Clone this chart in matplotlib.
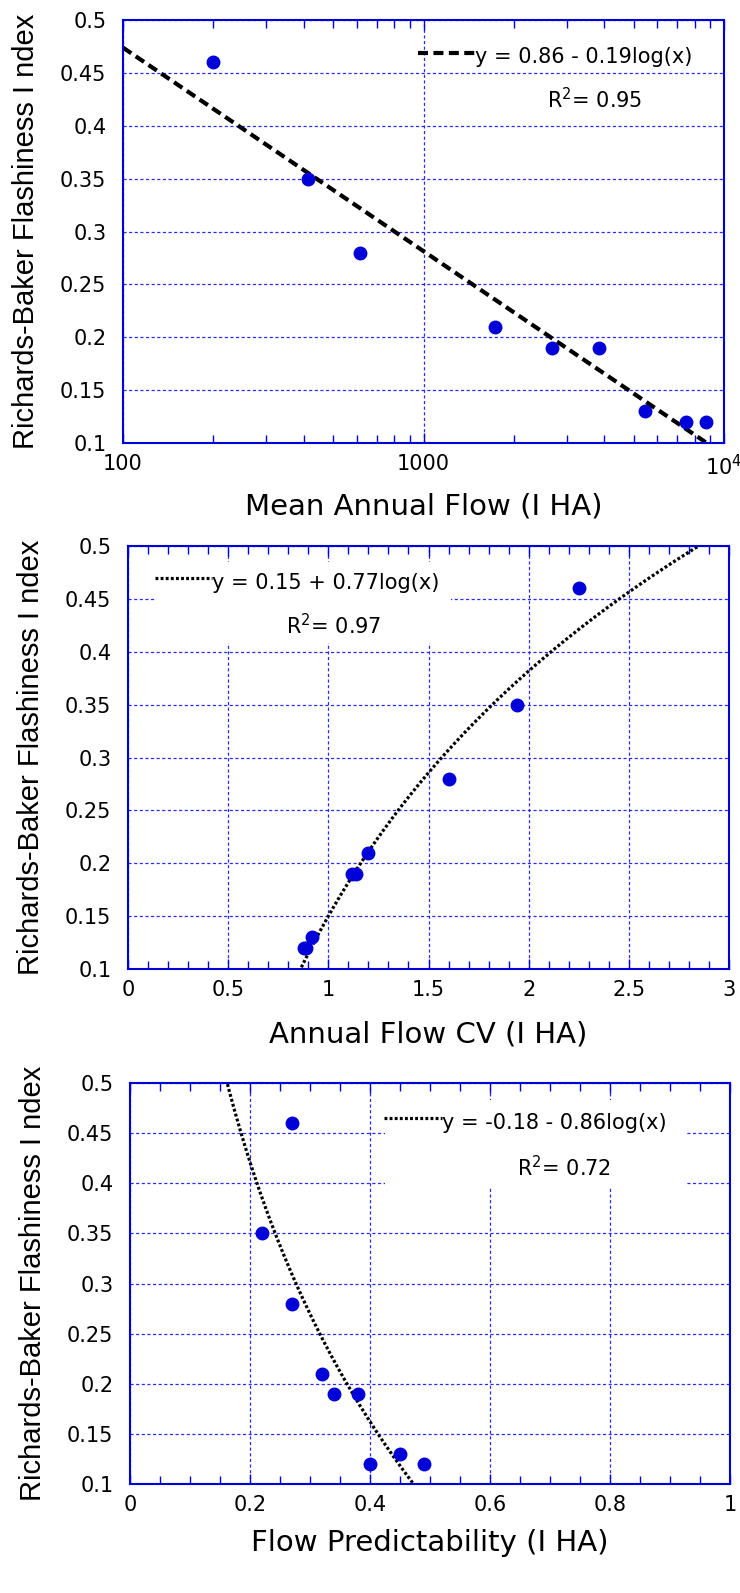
import matplotlib
matplotlib.use('Agg')
import matplotlib.pyplot as plt
import matplotlib.ticker as mticker
from matplotlib.patches import Rectangle
import numpy as np

# flashiness index (same for all three panels)
rb_index = [0.46, 0.35, 0.28, 0.21, 0.19, 0.19, 0.13, 0.12, 0.12]

# panel x values
mean_flow = [200, 412, 615, 1730, 2680, 3840, 5470, 7480, 8720]
flow_cv = [2.25, 1.94, 1.60, 1.20, 1.12, 1.14, 0.92, 0.88, 0.89]
flow_pred = [0.27, 0.22, 0.27, 0.32, 0.34, 0.38, 0.45, 0.40, 0.49]
rb_pred = [0.46, 0.35, 0.28, 0.21, 0.19, 0.19, 0.13, 0.12, 0.12]

# fitted log trend lines (from the equations on the chart)
fit2 = (0.15, 0.77)
fit3 = (-0.18, -0.86)

eq_labels = ['y = 0.86 - 0.19log(x)', 'y = 0.15 + 0.77log(x)', 'y = -0.18 - 0.86log(x)']
r2_labels = ['R$^2$= 0.95', 'R$^2$= 0.97', 'R$^2$= 0.72']
xlabels = ['Mean Annual Flow (I HA)', 'Annual Flow CV (I HA)', 'Flow Predictability (I HA)']
ylabel = 'Richards-Baker Flashiness I ndex'

BLUE = '#0000d8'
GRID = '#2a2aff'
DASH = (0, (2.4, 1.3))
DOT = (0, (0.9, 0.7))

plt.rcParams['font.family'] = ['DejaVu Sans']

fig = plt.figure(figsize=(7.4, 15.93), dpi=100)
W, H = 740, 1593


def axes_px(l, t, r, b):
    return fig.add_axes([l / W, 1 - b / H, (r - l) / W, (b - t) / H])


ax1 = axes_px(123, 20, 724, 443)
ax2 = axes_px(128, 546, 729, 969)
ax3 = axes_px(130, 1083, 730, 1484)


def style(ax):
    ax.set_ylim(0.1, 0.5)
    ax.set_yticks(np.arange(0.1, 0.51, 0.05))
    ax.yaxis.set_major_formatter(mticker.FuncFormatter(lambda v, p: ('%.2f' % v).rstrip('0').rstrip('.')))
    ax.set_axisbelow(True)
    ax.grid(True, which='major', color=GRID, linestyle=(0, (2.5, 2)), linewidth=0.9)
    for s in ax.spines.values():
        s.set_color(BLUE)
        s.set_linewidth(1.5)
    ax.tick_params(axis='y', length=0, pad=12, labelsize=15)
    ax.tick_params(axis='x', which='both', direction='in', top=True, color=BLUE, labelsize=15, pad=8)
    ax.tick_params(axis='x', which='major', length=7, width=1)
    ax.tick_params(axis='x', which='minor', length=6, width=1)
    ax.set_ylabel(ylabel, fontsize=21, family=['Liberation Sans', 'DejaVu Sans'])
    ax.yaxis.label.set_va('center')
    ax.yaxis.set_label_coords(-0.162, 0.5)


def annotate(ax, lx0, lx1, ly, tx, ty, rx, ry, eq, r2, ls, lw):
    ax.plot([lx0, lx1], [ly, ly], transform=ax.transAxes, color='black', linestyle=ls, linewidth=lw, zorder=4)
    ax.text(tx, ty, eq, transform=ax.transAxes, fontsize=15, va='center', ha='left', zorder=4)
    ax.text(rx, ry, r2, transform=ax.transAxes, fontsize=15, va='center', ha='left', zorder=4)


# panel 1: log axis, trend fitted to the points
style(ax1)
ax1.set_xscale('log')
ax1.set_xlim(100, 1e4)
ax1.xaxis.set_major_locator(mticker.FixedLocator([100, 1000, 1e4]))
ax1.xaxis.set_major_formatter(mticker.FixedFormatter(['100', '1000', '$10^4$']))
ax1.xaxis.set_minor_locator(mticker.LogLocator(base=10, subs=np.arange(2, 10)))
ax1.xaxis.set_minor_formatter(mticker.NullFormatter())
b1, a1 = np.polyfit(np.log10(mean_flow), rb_index, 1)
xf = np.logspace(2, 4, 200)
ax1.plot(xf, a1 + b1 * np.log10(xf), color='black', linestyle=DASH, linewidth=3.0, zorder=2)
ax1.plot(mean_flow, rb_index, 'o', color=BLUE, markersize=9, zorder=3)
annotate(ax1, 0.491, 0.586, 0.922, 0.586, 0.912, 0.705, 0.811, eq_labels[0], r2_labels[0], DASH, 3.0)

# panel 2
style(ax2)
ax2.set_xlim(0, 3)
ax2.xaxis.set_major_locator(mticker.MultipleLocator(0.5))
ax2.xaxis.set_minor_locator(mticker.MultipleLocator(0.1))
ax2.xaxis.set_major_formatter(mticker.FuncFormatter(lambda v, p: ('%.1f' % v).rstrip('0').rstrip('.')))
ax2.add_patch(Rectangle((0.045, 0.771), 0.492, 0.191, transform=ax2.transAxes, facecolor='white', edgecolor='none', zorder=1))
xf = np.linspace(0.8, 3, 200)
ax2.plot(xf, fit2[0] + fit2[1] * np.log10(xf), color='black', linestyle=DOT, linewidth=2.3, zorder=2)
ax2.plot(flow_cv, rb_index, 'o', color=BLUE, markersize=9, zorder=3)
annotate(ax2, 0.045, 0.140, 0.924, 0.140, 0.912, 0.263, 0.813, eq_labels[1], r2_labels[1], DOT, 2.3)

# panel 3
style(ax3)
ax3.set_xlim(0, 1)
ax3.xaxis.set_major_locator(mticker.MultipleLocator(0.2))
ax3.xaxis.set_minor_locator(mticker.MultipleLocator(0.05))
ax3.xaxis.set_major_formatter(mticker.FuncFormatter(lambda v, p: ('%.1f' % v).rstrip('0').rstrip('.')))
ax3.add_patch(Rectangle((0.425, 0.741), 0.5, 0.217, transform=ax3.transAxes, facecolor='white', edgecolor='none', zorder=1))
xf = np.linspace(0.15, 0.5, 200)
ax3.plot(xf, fit3[0] + fit3[1] * np.log10(xf), color='black', linestyle=DOT, linewidth=2.3, zorder=2)
ax3.plot(flow_pred, rb_pred, 'o', color=BLUE, markersize=9, zorder=3)
annotate(ax3, 0.423, 0.520, 0.913, 0.520, 0.900, 0.645, 0.790, eq_labels[2], r2_labels[2], DOT, 2.3)

# x labels
for ax, lab, yc in [(ax1, xlabels[0], -0.151), (ax2, xlabels[1], -0.156), (ax3, xlabels[2], -0.147)]:
    ax.set_xlabel(lab, fontsize=21)
    ax.xaxis.label.set_va('center')
    ax.xaxis.set_label_coords(0.5, yc)

fig.savefig('out.png', dpi=100)
